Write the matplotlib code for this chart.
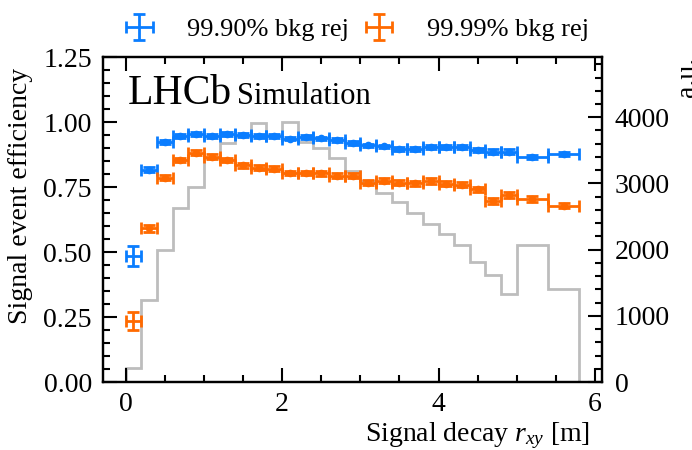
import numpy as np
import matplotlib
matplotlib.use('Agg')
import matplotlib.pyplot as plt
from matplotlib.ticker import MultipleLocator

plt.rcParams['font.family'] = ['Liberation Serif', 'DejaVu Serif']
plt.rcParams['mathtext.fontset'] = 'custom'
plt.rcParams['mathtext.rm'] = 'Liberation Serif'
plt.rcParams['mathtext.it'] = 'Liberation Serif:italic'

# bin edges of signal decay r_xy [m]
edges = [0.0, 0.2, 0.4, 0.6, 0.8, 1.0, 1.2, 1.4, 1.6, 1.8, 2.0, 2.2, 2.4, 2.6,
         2.8, 3.0, 3.2, 3.4, 3.6, 3.8, 4.0, 4.2, 4.4, 4.6, 4.8, 5.0, 5.4, 5.8]

# signal efficiency at 99.90% background rejection
eff_a = [0.485, 0.817, 0.922, 0.946, 0.953, 0.947, 0.953, 0.949, 0.946, 0.945,
         0.936, 0.943, 0.937, 0.932, 0.919, 0.910, 0.906, 0.895, 0.897, 0.905,
         0.903, 0.905, 0.892, 0.886, 0.886, 0.865, 0.876]
err_a = [0.038, 0.011, 0.008, 0.007, 0.007, 0.007, 0.007, 0.007, 0.007, 0.007,
         0.007, 0.007, 0.007, 0.007, 0.007, 0.007, 0.007, 0.008, 0.008, 0.008,
         0.008, 0.008, 0.008, 0.009, 0.009, 0.008, 0.008]

# signal efficiency at 99.99% background rejection
eff_b = [0.235, 0.591, 0.786, 0.854, 0.882, 0.867, 0.854, 0.833, 0.824, 0.821,
         0.804, 0.804, 0.803, 0.794, 0.794, 0.767, 0.774, 0.767, 0.764, 0.773,
         0.762, 0.759, 0.741, 0.696, 0.719, 0.704, 0.678]
err_b = [0.034, 0.013, 0.010, 0.009, 0.009, 0.009, 0.009, 0.009, 0.009, 0.009,
         0.009, 0.009, 0.009, 0.009, 0.009, 0.009, 0.009, 0.009, 0.009, 0.010,
         0.010, 0.010, 0.010, 0.011, 0.011, 0.010, 0.010]

# signal r_xy distribution (a.u.)
counts = [207, 1245, 1990, 2630, 2950, 3390, 3610, 3710, 3920, 3730, 3925, 3630,
          3530, 3390, 3190, 3035, 2855, 2715, 2550, 2380, 2240, 2065, 1815, 1615,
          1330, 2068, 1399]

edges = np.array(edges)
centers = 0.5 * (edges[1:] + edges[:-1])
half_w = 0.5 * (edges[1:] - edges[:-1])

blue = '#0a7dff'
orange = '#ff6a00'

fig = plt.figure(figsize=(6.92, 4.5), dpi=100)
ax = fig.add_axes([0.1488, 0.1511, 0.7212, 0.7222])
ax2 = ax.twinx()

ax2.stairs(counts, edges, color='#bdbdbd', lw=2.0, baseline=0)
ax2.set_ylim(0, 4910)

ekw = dict(fmt='none', elinewidth=2.0, capsize=4.5, capthick=2.0)
h1 = ax.errorbar(centers, eff_a, yerr=err_a, xerr=half_w, ecolor=blue, **ekw)
h2 = ax.errorbar(centers, eff_b, yerr=err_b, xerr=half_w, ecolor=orange, **ekw)
# central dots (first bin has large errors and shows as a plain cross)
ax.plot(centers[1:], eff_a[1:], 'o', color=blue, ms=5.5, mew=0)
ax.plot(centers[1:], eff_b[1:], 'o', color=orange, ms=5.5, mew=0)

ax.set_zorder(ax2.get_zorder() + 1)
ax.patch.set_visible(False)

ax.set_xlim(-0.29, 6.09)
ax.set_ylim(0, 1.25)
ax.xaxis.set_major_locator(MultipleLocator(2))
ax.xaxis.set_minor_locator(MultipleLocator(0.5))
ax.yaxis.set_major_locator(MultipleLocator(0.25))
ax.yaxis.set_minor_locator(MultipleLocator(0.05))
ax.yaxis.set_major_formatter('{x:.2f}')
ax2.yaxis.set_major_locator(MultipleLocator(1000))
ax2.yaxis.set_minor_locator(MultipleLocator(200))

ax.tick_params(which='both', direction='in', top=True, right=False, width=1.5,
               labelsize=20)
ax.tick_params(which='major', length=10)
ax.tick_params(which='minor', length=5)
ax.tick_params(axis='y', pad=8)
ax.tick_params(axis='x', pad=7)
ax2.tick_params(which='both', direction='in', width=1.5, labelsize=20, pad=9)
ax2.tick_params(which='major', length=10)
ax2.tick_params(which='minor', length=5)
for a in (ax, ax2):
    for s in a.spines.values():
        s.set_linewidth(1.6)

ax.set_ylabel('Signal event efficiency', fontsize=20, ha='right')
ax.yaxis.set_label_coords(-0.14, 0.966)
ax.set_xlabel('Signal decay $r_{xy}$ [m]', fontsize=20, ha='right')
ax.xaxis.set_label_coords(0.976, -0.118)
ax2.set_ylabel('a.u.', fontsize=20, loc='top')

ax.text(0.05, 0.855, 'LHCb', fontsize=30, transform=ax.transAxes)
ax.text(0.268, 0.855, 'Simulation', fontsize=22, transform=ax.transAxes)

ax.legend([h1, h2], ['99.90% bkg rej', '99.99% bkg rej'], loc='lower center',
          bbox_to_anchor=(0.51, 0.975), ncol=2, frameon=False, fontsize=19,
          handlelength=1.0, handletextpad=1.3, columnspacing=0.65)

fig.savefig('out.png', dpi=100)
